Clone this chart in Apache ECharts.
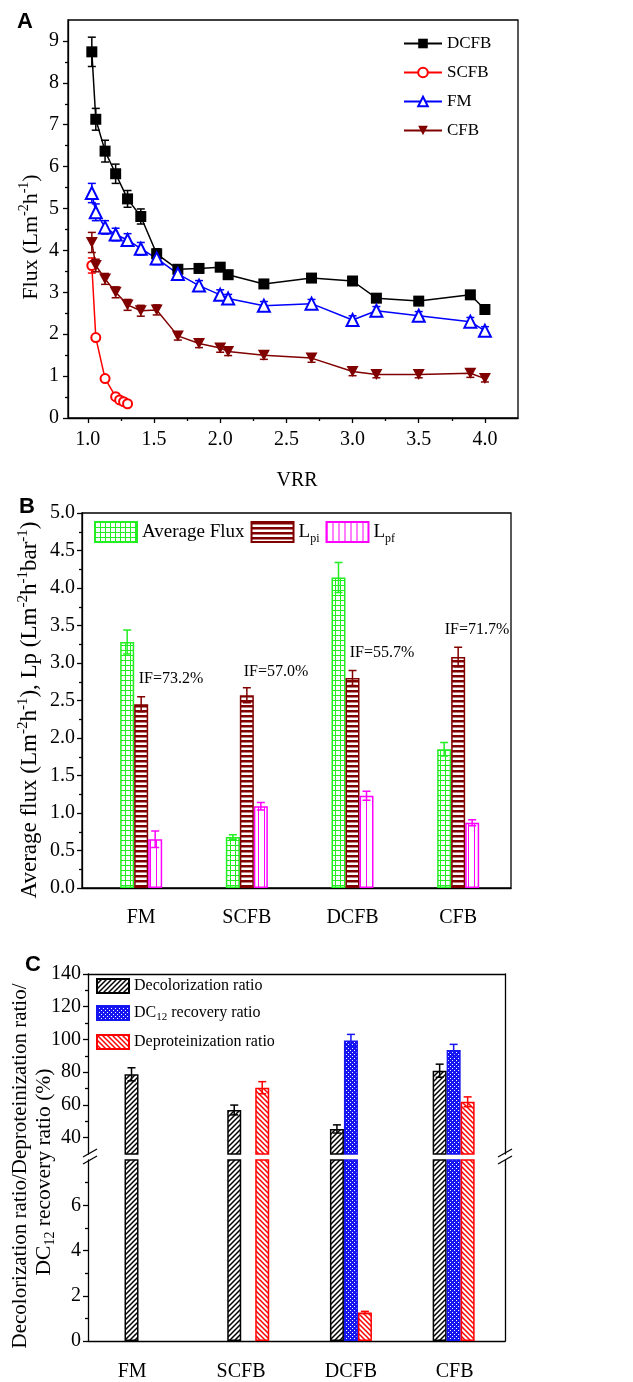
<!DOCTYPE html>
<html>
<head>
<meta charset="utf-8">
<script src="https://cdn.jsdelivr.net/npm/echarts@6/dist/echarts.min.js"></script>
<style>html,body{margin:0;padding:0;background:#fff}#main{width:633px;height:1382px}</style>
</head>
<body>
<div id="main"></div>
<script>
// ---- panel A: flux vs VRR ----
var vrr = [1.03, 1.06, 1.13, 1.21, 1.30, 1.40, 1.52, 1.68, 1.84, 2.00, 2.06, 2.33, 2.69, 3.00, 3.18, 3.50, 3.89, 4.00];
var fluxDCFB = [8.74, 7.13, 6.37, 5.83, 5.23, 4.81, 3.92, 3.55, 3.57, 3.60, 3.42, 3.20, 3.34, 3.27, 2.86, 2.79, 2.94, 2.59];
var errDCFB = [0.35, 0.26, 0.26, 0.23, 0.2, 0.18, 0.12, 0.1, 0.1, 0.1, 0.1, 0.08, 0.08, 0.08, 0.08, 0.08, 0.08, 0.06];
var fluxFM = [5.37, 4.91, 4.55, 4.38, 4.25, 4.04, 3.81, 3.44, 3.16, 2.94, 2.85, 2.68, 2.73, 2.34, 2.56, 2.44, 2.30, 2.08];
var errFM = [0.23, 0.2, 0.16, 0.15, 0.15, 0.15, 0.15, 0.15, 0.12, 0.12, 0.1, 0.1, 0.1, 0.1, 0.1, 0.1, 0.1, 0.1];
var fluxCFB = [4.19, 3.64, 3.32, 3.00, 2.70, 2.56, 2.58, 1.96, 1.78, 1.67, 1.59, 1.50, 1.43, 1.11, 1.04, 1.04, 1.07, 0.94];
var errCFB = [0.24, 0.15, 0.13, 0.13, 0.13, 0.13, 0.12, 0.1, 0.1, 0.1, 0.1, 0.1, 0.1, 0.1, 0.08, 0.08, 0.1, 0.08];
var vrrSCFB = [1.03, 1.06, 1.13, 1.21, 1.24, 1.27, 1.30];
var fluxSCFB = [3.64, 1.92, 0.94, 0.51, 0.43, 0.39, 0.34];
var errSCFB = [0.18, 0.05, 0.06, 0.05, 0.05, 0.05, 0.05];
var vrrTicks = [1.0, 1.5, 2.0, 2.5, 3.0, 3.5, 4.0];
var vrrMinor = [1.25, 1.75, 2.25, 2.75, 3.25, 3.75];
var fluxTicks = [0, 1, 2, 3, 4, 5, 6, 7, 8, 9];
var fluxMinor = [0.5, 1.5, 2.5, 3.5, 4.5, 5.5, 6.5, 7.5, 8.5];

// ---- panel B: average flux and permeability ----
var membranes = ['FM', 'SCFB', 'DCFB', 'CFB'];
var memPos = [1, 2, 3, 4];
var avgFlux = [3.28, 0.68, 4.14, 1.85];
var avgFluxErr = [0.16, 0.03, 0.2, 0.09];
var lpi = [2.45, 2.57, 2.80, 3.08];
var lpiErr = [0.1, 0.1, 0.1, 0.13];
var lpf = [0.65, 1.09, 1.23, 0.87];
var lpfErr = [0.11, 0.05, 0.06, 0.04];
var ifLabels = ['IF=73.2%', 'IF=57.0%', 'IF=55.7%', 'IF=71.7%'];

// ---- panel C: ratios (broken axis) ----
var decolor = [78.7, 56.9, 45.3, 80.9];
var decolorErr = [4, 3, 2.5, 4];
var dcRecovery = [null, null, 99.3, 93.5];
var dcRecoveryErr = [null, null, 3.8, 3.5];
var deprotein = [null, 70.5, 1.26, 61.9];
var deproteinErr = [null, 3.7, 0.05, 3];
var upperTicks = [40, 60, 80, 100, 120, 140];
var upperMinor = [50, 70, 90, 110, 130];
var lowerTicks = [0, 2, 4, 6];
var lowerMinor = [1, 3, 5, 7];

var FONT = 'Liberation Serif';
var AX = {color: '#000', width: 1.3};
var barW = 14;
var cLabelPos = [0.87, 1.93, 3.0, 4.01];

function pattern(size, bg, draw) {
    var c = document.createElement('canvas');
    c.width = size; c.height = size;
    var g = c.getContext('2d');
    g.fillStyle = bg; g.fillRect(0, 0, size, size);
    draw(g, size);
    return {image: c, repeat: 'repeat'};
}
var patGrid = pattern(5, '#fff', function (g, s) { g.fillStyle = '#22ee22'; g.fillRect(0, 0, s, 1); g.fillRect(0, 0, 1, s); });
var patHoriz = pattern(5, '#fff', function (g, s) { g.fillStyle = '#800000'; g.fillRect(0, 0, s, 2.5); });
var patVert = pattern(6, '#fff', function (g, s) { g.fillStyle = '#ff00ff'; g.fillRect(0, 0, 1, s); });
function diag(color, flip) {
    return pattern(5, '#fff', function (g, s) {
        g.strokeStyle = color; g.lineWidth = 1.5;
        g.beginPath();
        if (!flip) {
            g.moveTo(0, s); g.lineTo(s, 0); g.moveTo(-1, 1); g.lineTo(1, -1); g.moveTo(s - 1, s + 1); g.lineTo(s + 1, s - 1);
        } else {
            g.moveTo(0, 0); g.lineTo(s, s); g.moveTo(-1, s - 1); g.lineTo(1, s + 1); g.moveTo(s - 1, -1); g.lineTo(s + 1, 1);
        }
        g.stroke();
    });
}
var patBlack = diag('#000', false);
var patRed = diag('#ff0000', true);
var patDots = pattern(4, '#1515f0', function (g) { g.fillStyle = '#fff'; g.fillRect(0, 0, 1, 1); g.fillRect(2, 2, 1, 1); });

function zip(xs, ys) { return xs.map(function (x, i) { return [x, ys[i]]; }); }

function errSeries(xi, yi, xs, ys, es, color, dx, capW, z, keep) {
    var data = [];
    for (var i = 0; i < xs.length; i++) {
        if (ys[i] == null || es[i] == null) continue;
        if (keep && !keep(ys[i])) continue;
        data.push([xs[i], ys[i], es[i]]);
    }
    return {
        type: 'custom', xAxisIndex: xi, yAxisIndex: yi, z: z, silent: true, data: data,
        encode: {x: 0, y: 1},
        renderItem: function (params, api) {
            var x = api.value(0), y = api.value(1), e = api.value(2);
            var t = api.coord([x, y + e]), b = api.coord([x, y - e]);
            var cx = t[0] + dx, h = capW / 2;
            var st = {stroke: color, lineWidth: 1.5};
            return {type: 'group', children: [
                {type: 'line', shape: {x1: cx, y1: t[1], x2: cx, y2: b[1]}, style: st},
                {type: 'line', shape: {x1: cx - h, y1: t[1], x2: cx + h, y2: t[1]}, style: st},
                {type: 'line', shape: {x1: cx - h, y1: b[1], x2: cx + h, y2: b[1]}, style: st}
            ]};
        }
    };
}

function minorAxis(grid, min, max, vals, pos) {
    return {type: 'value', gridIndex: grid, min: min, max: max, position: pos,
        axisLine: {show: false, onZero: false}, axisLabel: {show: false}, splitLine: {show: false},
        axisTick: {show: true, length: 3, customValues: vals, lineStyle: AX}};
}
function lineAxis(grid, min, max, pos) {
    return {type: 'value', gridIndex: grid, min: min, max: max, position: pos,
        axisLine: {show: true, onZero: false, lineStyle: AX}, axisLabel: {show: false},
        axisTick: {show: false}, splitLine: {show: false}};
}
var tickLabel = {color: '#000', fontFamily: FONT, fontSize: 20};

function richSet(size) {
    return {
        n: {fontFamily: FONT, fontSize: size, lineHeight: size + 6, color: '#000'},
        p: {fontFamily: FONT, fontSize: Math.round(size * 0.65), lineHeight: 14, verticalAlign: 'top', color: '#000'},
        s: {fontFamily: FONT, fontSize: Math.round(size * 0.65), lineHeight: 14, verticalAlign: 'bottom', color: '#000'}
    };
}
function vtext(x, y, text, size) {
    return {type: 'text', x: x, y: y, rotation: Math.PI / 2,
        style: {text: text, rich: richSet(size), align: 'center', verticalAlign: 'middle', textAlign: 'center', textVerticalAlign: 'middle'}};
}
function plain(x, y, text, size, font, weight) {
    return {type: 'text', x: x, y: y,
        style: {text: text, fill: '#000', font: (weight || 'normal') + ' ' + size + 'px "' + (font || FONT) + '"',
            textAlign: 'center', textVerticalAlign: 'middle', align: 'center', verticalAlign: 'middle'}};
}
function breakMark(x, y) {
    return {type: 'line', shape: {x1: x - 7, y1: y + 4, x2: x + 7, y2: y - 4}, style: {stroke: '#000', lineWidth: 1.3}};
}

var graphics = [
    plain(25, 22, 'A', 22, 'Liberation Sans', 'bold'),
    plain(27, 507, 'B', 22, 'Liberation Sans', 'bold'),
    plain(33, 965, 'C', 22, 'Liberation Sans', 'bold'),
    plain(297, 481, 'VRR', 20),
    vtext(31, 237, '{n|Flux (Lm}{p|-2}{n|h}{p|-1}{n|)}', 22),
    vtext(30, 710, '{n|Average flux (Lm}{p|-2}{n|h}{p|-1}{n|), Lp (Lm}{p|-2}{n|h}{p|-1}{n|bar}{p|-1}{n|)}', 23),
    vtext(20, 1166, '{n|Decolorization ratio/Deproteinization ratio/}', 21),
    vtext(44, 1172, '{n|DC}{s|12}{n| recovery ratio (%)}', 21.5),
    breakMark(90, 1153), breakMark(90, 1160),
    breakMark(505, 1153), breakMark(505, 1160)
];
var ifPos = [[171, 679], [276, 672], [382, 653], [477, 630]];
ifLabels.forEach(function (t, i) { graphics.push(plain(ifPos[i][0], ifPos[i][1], t, 16)); });

var chart = echarts.init(document.getElementById('main'));

var option = {
    animation: false,
    backgroundColor: '#fff',
    grid: [
        {left: 68, top: 20, width: 450, height: 398, show: true, borderColor: '#000', borderWidth: 1.3, outerBoundsMode: 'none'},
        {left: 82, top: 513, width: 429, height: 375, show: true, borderColor: '#000', borderWidth: 1.3, outerBoundsMode: 'none'},
        {left: 88, top: 974, width: 417, height: 180, outerBoundsMode: 'none'},
        {left: 88, top: 1160, width: 417, height: 181, outerBoundsMode: 'none'}
    ],
    xAxis: [
        {type: 'value', gridIndex: 0, min: 0.85, max: 4.25, position: 'bottom',
            axisLine: {show: true, onZero: false, lineStyle: AX}, splitLine: {show: false},
            axisTick: {show: true, length: 5, customValues: vrrTicks, lineStyle: AX},
            axisLabel: Object.assign({customValues: vrrTicks, margin: 12, formatter: function (v) { return v.toFixed(1); }}, tickLabel)},
        minorAxis(0, 0.85, 4.25, vrrMinor, 'bottom'),
        {type: 'value', gridIndex: 1, min: 0.44, max: 4.5, position: 'bottom',
            axisLine: {show: true, onZero: false, lineStyle: AX}, splitLine: {show: false}, axisTick: {show: false},
            axisLabel: Object.assign({customValues: memPos, margin: 20, formatter: function (v) { return membranes[Math.round(v) - 1]; }}, tickLabel)},
        {type: 'value', gridIndex: 2, min: 0.44, max: 4.5, position: 'bottom', show: false},
        lineAxis(2, 0.44, 4.5, 'top'),
        {type: 'value', gridIndex: 3, min: 0.44, max: 4.5, position: 'bottom',
            axisLine: {show: true, onZero: false, lineStyle: AX}, splitLine: {show: false}, axisTick: {show: false},
            axisLabel: Object.assign({customValues: cLabelPos, margin: 21, formatter: function (v) {
                var best = 0;
                cLabelPos.forEach(function (p, i) { if (Math.abs(p - v) < Math.abs(cLabelPos[best] - v)) best = i; });
                return membranes[best];
            }}, tickLabel)}
    ],
    yAxis: [
        {type: 'value', gridIndex: 0, min: 0, max: 9.5, position: 'left',
            axisLine: {show: true, onZero: false, lineStyle: AX}, splitLine: {show: false},
            axisTick: {show: true, length: 5, customValues: fluxTicks, lineStyle: AX},
            axisLabel: Object.assign({customValues: fluxTicks, margin: 9}, tickLabel)},
        minorAxis(0, 0, 9.5, fluxMinor, 'left'),
        {type: 'value', gridIndex: 1, min: 0, max: 5, interval: 0.5, position: 'left',
            axisLine: {show: true, onZero: false, lineStyle: AX}, splitLine: {show: false},
            axisTick: {show: true, length: 5, lineStyle: AX},
            minorTick: {show: true, splitNumber: 2, length: 3, lineStyle: AX},
            axisLabel: Object.assign({margin: 7, formatter: function (v) { return v.toFixed(1); }}, tickLabel)},
        {type: 'value', gridIndex: 2, min: 30, max: 140, position: 'left',
            axisLine: {show: true, onZero: false, lineStyle: AX}, splitLine: {show: false},
            axisTick: {show: true, length: 5, customValues: upperTicks, lineStyle: AX},
            axisLabel: Object.assign({customValues: upperTicks, margin: 7}, tickLabel)},
        minorAxis(2, 30, 140, upperMinor, 'left'),
        lineAxis(2, 30, 140, 'right'),
        {type: 'value', gridIndex: 3, min: 0, max: 8, position: 'left',
            axisLine: {show: true, onZero: false, lineStyle: AX}, splitLine: {show: false},
            axisTick: {show: true, length: 5, customValues: lowerTicks, lineStyle: AX},
            axisLabel: Object.assign({customValues: lowerTicks, margin: 7}, tickLabel)},
        minorAxis(3, 0, 8, lowerMinor, 'left'),
        lineAxis(3, 0, 8, 'right')
    ],
    legend: [
        {data: ['DCFB', 'SCFB', 'FM', 'CFB'], orient: 'vertical', left: 403, top: 35, padding: 0,
            itemWidth: 38, itemHeight: 12, itemGap: 12,
            textStyle: {fontFamily: FONT, fontSize: 17, color: '#000'}},
        {data: ['Average Flux', 'Lpi', 'Lpf'], orient: 'horizontal', left: 94, top: 521, padding: 0,
            itemWidth: 42, itemHeight: 20, itemGap: 6, icon: 'rect',
            formatter: function (n) { return n === 'Average Flux' ? '{n|' + n + '}' : '{n|L}{s|' + n.slice(1) + '}'; },
            textStyle: {rich: richSet(19)}},
        {data: ['Decolorization ratio', 'DC12 recovery ratio', 'Deproteinization ratio'], orient: 'vertical',
            left: 96, top: 978, padding: 0, itemWidth: 32, itemHeight: 14, itemGap: 11, icon: 'rect',
            formatter: function (n) {
                return n === 'DC12 recovery ratio' ? '{c|DC}{t|12}{c| recovery ratio}' : '{c|' + n + '}';
            },
            textStyle: {rich: {
                c: {fontFamily: FONT, fontSize: 16, lineHeight: 20, color: '#000'},
                t: {fontFamily: FONT, fontSize: 11, lineHeight: 11, verticalAlign: 'bottom', color: '#000'}
            }}}
    ],
    graphic: graphics,
    series: [
        // panel A error bars (under markers)
        errSeries(0, 0, vrr, fluxDCFB, errDCFB, '#000', 0, 8, 1),
        errSeries(0, 0, vrrSCFB, fluxSCFB, errSCFB, '#ff0000', 0, 8, 1),
        errSeries(0, 0, vrr, fluxFM, errFM, '#0000ff', 0, 8, 1),
        errSeries(0, 0, vrr, fluxCFB, errCFB, '#800000', 0, 8, 1),
        {name: 'DCFB', type: 'line', xAxisIndex: 0, yAxisIndex: 0, z: 3, data: zip(vrr, fluxDCFB),
            symbol: 'rect', symbolSize: 11, lineStyle: {color: '#000', width: 1.5}, itemStyle: {color: '#000'}},
        {name: 'SCFB', type: 'line', xAxisIndex: 0, yAxisIndex: 0, z: 3, data: zip(vrrSCFB, fluxSCFB),
            symbol: 'emptyCircle', symbolSize: 9, lineStyle: {color: '#ff0000', width: 1.5},
            itemStyle: {color: '#ff0000', borderColor: '#ff0000', borderWidth: 1.5}},
        {name: 'FM', type: 'line', xAxisIndex: 0, yAxisIndex: 0, z: 3, data: zip(vrr, fluxFM),
            symbol: 'emptyTriangle', symbolSize: 12, lineStyle: {color: '#0000ff', width: 1.5},
            itemStyle: {color: '#0000ff', borderColor: '#0000ff', borderWidth: 1.5}},
        {name: 'CFB', type: 'line', xAxisIndex: 0, yAxisIndex: 0, z: 3, data: zip(vrr, fluxCFB),
            symbol: 'path://M0,0L10,0L5,9Z', symbolSize: [12, 11], lineStyle: {color: '#800000', width: 1.5},
            itemStyle: {color: '#800000'}},

        // panel B bars
        {name: 'Average Flux', type: 'bar', xAxisIndex: 2, yAxisIndex: 2, barWidth: barW, barGap: '0%',
            data: zip(memPos, avgFlux), itemStyle: {color: patGrid, borderColor: '#22ee22', borderWidth: 1.5}},
        {name: 'Lpi', type: 'bar', xAxisIndex: 2, yAxisIndex: 2, barWidth: barW, barGap: '0%',
            data: zip(memPos, lpi), itemStyle: {color: patHoriz, borderColor: '#800000', borderWidth: 1.5}},
        {name: 'Lpf', type: 'bar', xAxisIndex: 2, yAxisIndex: 2, barWidth: barW, barGap: '0%',
            data: zip(memPos, lpf), itemStyle: {color: patVert, borderColor: '#ff00ff', borderWidth: 1.5}},
        errSeries(2, 2, memPos, avgFlux, avgFluxErr, '#22ee22', -barW, 8, 5),
        errSeries(2, 2, memPos, lpi, lpiErr, '#800000', 0, 8, 5),
        errSeries(2, 2, memPos, lpf, lpfErr, '#ff00ff', barW, 8, 5),

        // panel C upper part
        {name: 'Decolorization ratio', type: 'bar', xAxisIndex: 3, yAxisIndex: 3, barWidth: barW, barGap: '0%',
            data: zip(memPos, decolor), itemStyle: {color: patBlack, borderColor: '#000', borderWidth: 1.5}},
        {name: 'DC12 recovery ratio', type: 'bar', xAxisIndex: 3, yAxisIndex: 3, barWidth: barW, barGap: '0%',
            data: zip(memPos, dcRecovery), itemStyle: {color: patDots, borderColor: '#1515f0', borderWidth: 1.5}},
        {name: 'Deproteinization ratio', type: 'bar', xAxisIndex: 3, yAxisIndex: 3, barWidth: barW, barGap: '0%',
            data: zip(memPos, deprotein), itemStyle: {color: patRed, borderColor: '#ff0000', borderWidth: 1.5}},
        // panel C lower part
        {name: 'Decolorization ratio', type: 'bar', xAxisIndex: 5, yAxisIndex: 6, barWidth: barW, barGap: '0%',
            data: zip(memPos, decolor), itemStyle: {color: patBlack, borderColor: '#000', borderWidth: 1.5}},
        {name: 'DC12 recovery ratio', type: 'bar', xAxisIndex: 5, yAxisIndex: 6, barWidth: barW, barGap: '0%',
            data: zip(memPos, dcRecovery), itemStyle: {color: patDots, borderColor: '#1515f0', borderWidth: 1.5}},
        {name: 'Deproteinization ratio', type: 'bar', xAxisIndex: 5, yAxisIndex: 6, barWidth: barW, barGap: '0%',
            data: zip(memPos, deprotein), itemStyle: {color: patRed, borderColor: '#ff0000', borderWidth: 1.5}},
        errSeries(3, 3, memPos, decolor, decolorErr, '#000', -barW, 8, 5, function (v) { return v > 30; }),
        errSeries(3, 3, memPos, dcRecovery, dcRecoveryErr, '#1515f0', 0, 8, 5, function (v) { return v > 30; }),
        errSeries(3, 3, memPos, deprotein, deproteinErr, '#ff0000', barW, 8, 5, function (v) { return v > 30; }),
        errSeries(5, 6, memPos, deprotein, deproteinErr, '#ff0000', barW, 8, 5, function (v) { return v < 8; })
    ]
};

chart.setOption(option);
</script>
</body>
</html>
